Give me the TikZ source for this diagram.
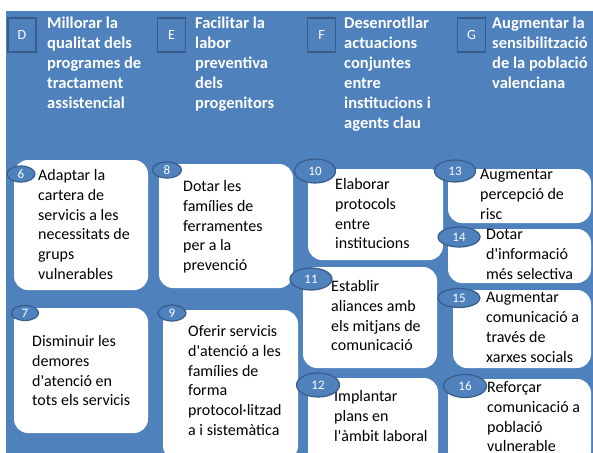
\documentclass[tikz,border=0pt]{standalone}
\usepackage{fontspec}
\setmainfont{Carlito}
\usetikzlibrary{shapes.geometric}

\definecolor{bgblue}{HTML}{4F81BD}
\definecolor{edgeblue}{HTML}{385D8A}
\newcommand{\ap}{\textquotesingle}

\tikzset{
    card/.style={draw=none, fill=white, rounded corners=14pt, inner sep=0pt},
    num/.style={ellipse, draw=edgeblue, line width=1.2pt, fill=bgblue, text=white, inner sep=0pt,
        font=\fontsize{13}{13}\selectfont},
    tag/.style={draw=edgeblue, line width=1.2pt, fill=bgblue, text=white, inner sep=0pt,
        minimum width=28pt, minimum height=34pt, font=\fontsize{14}{14}\selectfont},
    head/.style={anchor=north west, inner sep=0pt, align=left, text=white,
        font=\fontsize{16.5}{20}\selectfont\bfseries},
    txt/.style={anchor=north west, inner sep=0pt, align=left, text=black,
        font=\fontsize{16}{19.7}\selectfont}
}

\begin{document}
\begin{tikzpicture}[x=1pt,y=-1pt]
        \useasboundingbox (0,0) rectangle (593,452);
        \clip (0,0) rectangle (593,452);
        \fill[bgblue] (6,11) rectangle (600,460);
        % headers
        \node[tag] (tD) at (22,35) {D};
        \node[tag] (tE) at (171.5,35) {E};
        \node[tag] (tF) at (321.5,35) {F};
        \node[tag] (tG) at (471.5,35) {G};
        \node[head] (hD) at (47,17) {Millorar la\\qualitat dels\\programes de\\tractament\\assistencial};
        \node[head] (hE) at (195,17) {Facilitar la\\labor\\preventiva\\dels\\progenitors};
        \node[head] (hF) at (344,17) {Desenrotllar\\actuacions\\conjuntes\\entre\\institucions i\\agents clau};
        \node[head] (hG) at (492,17) {Augmentar la\\sensibilització\\de la població\\valenciana};
        % cards
        \node[card, minimum width=134pt, minimum height=130pt] (c6) at (81,225) {};
        \node[card, minimum width=134pt, minimum height=124pt] (c8) at (226,226) {};
        \node[card, minimum width=134pt, minimum height=125pt] (c7) at (81,370.5) {};
        \node[card, minimum width=135pt, minimum height=150pt] (c9) at (230.5,385) {};
        \node[card, minimum width=135pt, minimum height=91pt] (c10) at (375.5,214.5) {};
        \node[card, minimum width=134pt, minimum height=101pt] (c11) at (370,317.5) {};
        \node[card, minimum width=130pt, minimum height=87pt] (c12) at (373,421.5) {};
        \node[card, minimum width=143pt, minimum height=54pt] (c13) at (519.5,196) {};
        \node[card, minimum width=143pt, minimum height=54pt] (c14) at (519.5,256) {};
        \node[card, minimum width=138pt, minimum height=78pt] (c15) at (522,329) {};
        \node[card, minimum width=143pt, minimum height=86pt] (c16) at (519.5,422) {};
        % card texts
        \node[txt] (x6) at (38,169.5) {Adaptar la\\cartera de\\servicis a les\\necessitats de\\grups\\vulnerables};
        \node[txt] (x8) at (183,180.5) {Dotar les\\famílies de\\ferramentes\\per a la\\prevenció};
        \node[txt] (x7) at (32,335.5) {Disminuir les\\demores\\d\ap atenció en\\tots els servicis};
        \node[txt] (x9) at (188,325.5) {Oferir servicis\\d\ap atenció a les\\famílies de\\forma\\protocol·litzad\\a i sistemàtica};
        \node[txt] (x10) at (335,178.5) {Elaborar\\protocols\\entre\\institucions};
        \node[txt] (x11) at (331,280.5) {Establir\\aliances amb\\els mitjans de\\comunicació};
        \node[txt] (x12) at (334,390.5) {Implantar\\plans en\\l\ap àmbit laboral};
        \node[txt] (x13) at (480,169.5) {Augmentar\\percepció de\\risc};
        \node[txt] (x14) at (486,229.5) {Dotar\\d\ap informació\\més selectiva};
        \node[txt] (x15) at (486,292.5) {Augmentar\\comunicació a\\través de\\xarxes socials};
        \node[txt] (x16) at (487,381.5) {Reforçar\\comunicació a\\població\\vulnerable};
        % numbers
        \node[num, minimum width=28pt, minimum height=16pt] (n6) at (21,174) {6};
        \node[num, minimum width=29pt, minimum height=16pt] (n8) at (167,170) {8};
        \node[num, minimum width=27pt, minimum height=15pt] (n7) at (25,313) {7};
        \node[num, minimum width=28pt, minimum height=16pt] (n9) at (172,313) {9};
        \node[num, minimum width=41pt, minimum height=24pt] (n10) at (315,171) {10};
        \node[num, minimum width=42pt, minimum height=22pt] (n11) at (311,279) {11};
        \node[num, minimum width=43pt, minimum height=24pt] (n12) at (318,385) {12};
        \node[num, minimum width=41pt, minimum height=22pt] (n13) at (455,171) {13};
        \node[num, minimum width=42pt, minimum height=20pt] (n14) at (459,237) {14};
        \node[num, minimum width=42pt, minimum height=19pt] (n15) at (459,298) {15};
        \node[num, minimum width=43pt, minimum height=23pt] (n16) at (465,386) {16};
    \end{tikzpicture}
\end{document}
